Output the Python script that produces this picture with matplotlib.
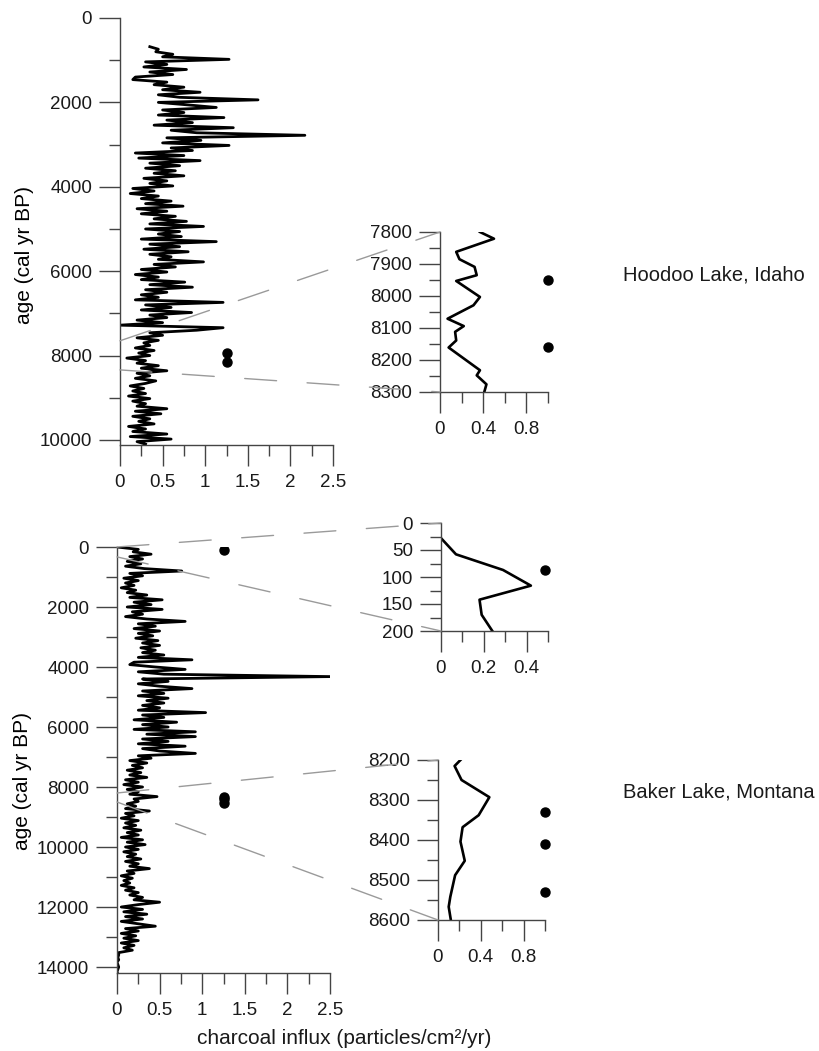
import matplotlib
matplotlib.use("Agg")
import matplotlib.pyplot as plt
from matplotlib.ticker import MultipleLocator
from matplotlib.patches import ConnectionPatch

plt.rcParams["font.family"] = ["Liberation Sans", "DejaVu Sans"]

# Hoodoo Lake, Idaho - charcoal influx, ages 680..10100 every 60 yr (rows of 10 = 600 yr)
hoodoo_age = list(range(680, 10101, 60))
hoodoo_val = [
    0.35, 0.45, 0.42, 0.62, 0.50, 1.28, 0.30, 0.55, 0.28, 0.78,
    0.35, 0.62, 0.18, 0.15, 0.55, 0.40, 0.75, 0.50, 0.94, 0.45,
    0.70, 1.62, 0.45, 0.80, 1.13, 0.50, 0.75, 0.45, 1.22, 0.55,
    0.85, 0.40, 1.33, 0.60, 0.90, 2.17, 0.55, 0.95, 0.50, 1.28,
    0.60, 0.85, 0.18, 0.75, 0.22, 0.94, 0.35, 0.70, 0.30, 0.65,
    0.40, 0.75, 0.28, 0.55, 0.35, 0.62, 0.15, 0.40, 0.12, 0.45,
    0.25, 0.60, 0.30, 0.74, 0.20, 0.55, 0.25, 0.65, 0.40, 0.78,
    0.35, 0.98, 0.30, 0.70, 0.45, 0.72, 0.25, 1.13, 0.35, 0.70,
    0.28, 0.80, 0.35, 0.60, 0.45, 0.98, 0.40, 0.65, 0.25, 0.55,
    0.18, 0.45, 0.25, 0.76, 0.35, 0.85, 0.30, 0.55, 0.25, 0.45,
    0.18, 1.21, 0.30, 0.60, 0.25, 0.84, 0.35, 0.55, 0.20, 0.50,
    0.00, 1.21, 0.90, 0.35, 0.50, 0.20, 0.45, 0.28, 0.35, 0.18,
    0.40, 0.22, 0.35, 0.08, 0.30, 0.20, 0.45, 0.25, 0.55, 0.20,
    0.35, 0.18, 0.42, 0.30, 0.12, 0.28, 0.15, 0.30, 0.10, 0.35,
    0.15, 0.30, 0.20, 0.55, 0.18, 0.48, 0.15, 0.35, 0.22, 0.40,
    0.10, 0.30, 0.15, 0.55, 0.12, 0.60, 0.20, 0.30,
]

# Baker Lake, Montana - ages 0..14320 every 80 yr (rows of 10 = 800 yr)
baker_age = list(range(0, 14321, 80))
baker_val = [
    0.00, 0.25, 0.19, 0.40, 0.15, 0.30, 0.12, 0.28, 0.10, 0.32,
    0.76, 0.15, 0.30, 0.08, 0.25, 0.10, 0.20, 0.05, 0.22, 0.12,
    0.35, 0.15, 0.53, 0.20, 0.40, 0.12, 0.53, 0.18, 0.30, 0.10,
    0.35, 0.80, 0.25, 0.45, 0.20, 0.50, 0.25, 0.42, 0.22, 0.48,
    0.30, 0.50, 0.28, 0.45, 0.30, 0.55, 0.25, 0.88, 0.20, 0.15,
    0.45, 0.80, 0.25, 0.55, 2.50, 0.30, 0.60, 0.25, 0.50, 0.88,
    0.30, 0.55, 0.25, 0.60, 0.35, 0.55, 0.30, 0.50, 0.25, 1.04,
    0.30, 0.55, 0.20, 0.70, 0.30, 0.60, 0.20, 0.92, 0.35, 0.92,
    0.30, 0.60, 0.25, 0.80, 0.30, 0.50, 0.92, 0.25, 0.40, 0.15,
    0.35, 0.18, 0.30, 0.12, 0.28, 0.15, 0.35, 0.10, 0.25, 0.08,
    0.30, 0.12, 0.25, 0.15, 0.47, 0.20, 0.25, 0.12, 0.22, 0.10,
    0.38, 0.10, 0.20, 0.05, 0.25, 0.10, 0.22, 0.08, 0.28, 0.12,
    0.25, 0.05, 0.30, 0.12, 0.33, 0.10, 0.25, 0.08, 0.22, 0.12,
    0.28, 0.10, 0.25, 0.15, 0.38, 0.12, 0.20, 0.05, 0.18, 0.08,
    0.15, 0.05, 0.20, 0.10, 0.25, 0.15, 0.30, 0.20, 0.50, 0.25,
    0.05, 0.30, 0.08, 0.35, 0.10, 0.30, 0.05, 0.25, 0.45, 0.10,
    0.25, 0.05, 0.22, 0.08, 0.25, 0.05, 0.20, 0.08, 0.18, 0.02,
    0.02, 0.01, 0.02, 0.00, 0.01, 0.02, 0.01, 0.00, 0.01, 0.00,
]

# close-up windows
hoodoo_zoom_age = [7800, 7821, 7862, 7885, 7909, 7935, 7953, 8003, 8029,
                   8071, 8094, 8112, 8139, 8161, 8232, 8248, 8276, 8300]
hoodoo_zoom_val = [0.37, 0.50, 0.15, 0.18, 0.32, 0.34, 0.15, 0.37, 0.31,
                   0.07, 0.22, 0.14, 0.15, 0.08, 0.37, 0.34, 0.43, 0.41]

baker_top_age = [28, 58, 87, 116, 142, 170, 200]
baker_top_val = [0.00, 0.07, 0.29, 0.42, 0.18, 0.19, 0.24]

baker_mid_age = [8200, 8215, 8250, 8293, 8338, 8368, 8404, 8452, 8488, 8542, 8567, 8600]
baker_mid_val = [0.21, 0.155, 0.22, 0.48, 0.38, 0.23, 0.21, 0.25, 0.16, 0.115, 0.10, 0.12]

# fire events (dots)
hoodoo_events = [7950, 8160]
baker_events_top = [87]
baker_events_mid = [8330, 8410, 8530]

W, H = 820, 1051
fig = plt.figure(figsize=(W / 100, H / 100), dpi=100)


def add_ax(left, top, right, bottom):
    ax = fig.add_axes([left / W, 1 - bottom / H, (right - left) / W, (bottom - top) / H])
    ax.patch.set_visible(False)
    return ax


AXC = "#444444"


def style(ax, xmaj, xmin, ymaj, ymin):
    for s in ["top", "right"]:
        ax.spines[s].set_visible(False)
    for s in ["left", "bottom"]:
        ax.spines[s].set_color(AXC)
        ax.spines[s].set_linewidth(1.0)
    ax.xaxis.set_major_locator(MultipleLocator(xmaj))
    ax.xaxis.set_minor_locator(MultipleLocator(xmin))
    ax.yaxis.set_major_locator(MultipleLocator(ymaj))
    ax.yaxis.set_minor_locator(MultipleLocator(ymin))
    ax.tick_params(which="major", length=15, width=1.0, color=AXC, labelsize=13.5, labelcolor="#1a1a1a")
    ax.tick_params(which="minor", length=8, width=1.0, color=AXC)
    ax.tick_params(axis="x", which="major", pad=6)
    ax.tick_params(axis="y", which="major", pad=5)
    ax.xaxis.set_major_formatter(plt.FuncFormatter(lambda v, p: ("%g" % round(v, 3))))


# main panels
ax1 = add_ax(120, 18, 333, 445)
ax1.plot(hoodoo_val, hoodoo_age, color="black", lw=2.0)
ax1.plot([1.25] * len(hoodoo_events), hoodoo_events, "o", color="black", ms=6.5)
ax1.set_xlim(0, 2.5)
ax1.set_ylim(10120, 0)
style(ax1, 0.5, 0.25, 2000, 1000)
ax1.set_ylabel("age (cal yr BP)", fontsize=15)
ax1.yaxis.set_label_coords(-0.405, 0.445)

ax2 = add_ax(117, 547, 330, 973)
ax2.plot(baker_val, baker_age, color="black", lw=2.0)
ax2.plot([1.25] * len(baker_events_top), baker_events_top, "o", color="black", ms=6.5)
ax2.plot([1.25] * len(baker_events_mid), baker_events_mid, "o", color="black", ms=6.5)
ax2.set_xlim(0, 2.5)
ax2.set_ylim(14200, 0)
style(ax2, 0.5, 0.25, 2000, 1000)
ax2.set_ylabel("age (cal yr BP)", fontsize=15)
ax2.yaxis.set_label_coords(-0.40, 0.45)

# insets
in1 = add_ax(440, 232, 548, 392)
in1.plot(hoodoo_zoom_val, hoodoo_zoom_age, color="black", lw=1.9)
in1.plot([1.0] * len(hoodoo_events), hoodoo_events, "o", color="black", ms=6.5, clip_on=False)
in1.set_xlim(0, 1.0)
in1.set_ylim(8300, 7800)
style(in1, 0.4, 0.2, 100, 50)

in2 = add_ax(441, 523, 548, 631)
in2.plot(baker_top_val, baker_top_age, color="black", lw=1.9)
in2.plot([0.485] * len(baker_events_top), baker_events_top, "o", color="black", ms=6.5, clip_on=False)
in2.set_xlim(0, 0.5)
in2.set_ylim(200, 0)
style(in2, 0.2, 0.1, 50, 25)

in3 = add_ax(438, 760, 545, 920)
in3.plot(baker_mid_val, baker_mid_age, color="black", lw=1.9)
in3.plot([1.0] * len(baker_events_mid), baker_events_mid, "o", color="black", ms=6.5, clip_on=False)
in3.set_xlim(0, 1.0)
in3.set_ylim(8600, 8200)
style(in3, 0.4, 0.2, 100, 50)

# dashed zoom guides
links = [
    (ax1, 7650, in1, 7800), (ax1, 8340, in1, 8300),
    (ax2, 0, in2, 0), (ax2, 330, in2, 200),
    (ax2, 8200, in3, 8200), (ax2, 8500, in3, 8600),
]
for a, ya, b, yb in links:
    con = ConnectionPatch(xyA=(0, ya), coordsA=a.transData, xyB=(0, yb), coordsB=b.transData,
                          color="#9a9a9a", lw=1.0, linestyle=(0, (23, 22)), zorder=3)
    fig.add_artist(con)

fig.text(623 / W, 1 - 275 / H, "Hoodoo Lake, Idaho", fontsize=14.5, va="center", ha="left", color="#1a1a1a")
fig.text(623 / W, 1 - 792 / H, "Baker Lake, Montana", fontsize=14.5, va="center", ha="left", color="#1a1a1a")
fig.text(197 / W, 1 - 1038 / H, "charcoal influx (particles/cm\u00b2/yr)", fontsize=15,
         va="center", ha="left", color="#1a1a1a")

fig.savefig("out.png", dpi=100)
